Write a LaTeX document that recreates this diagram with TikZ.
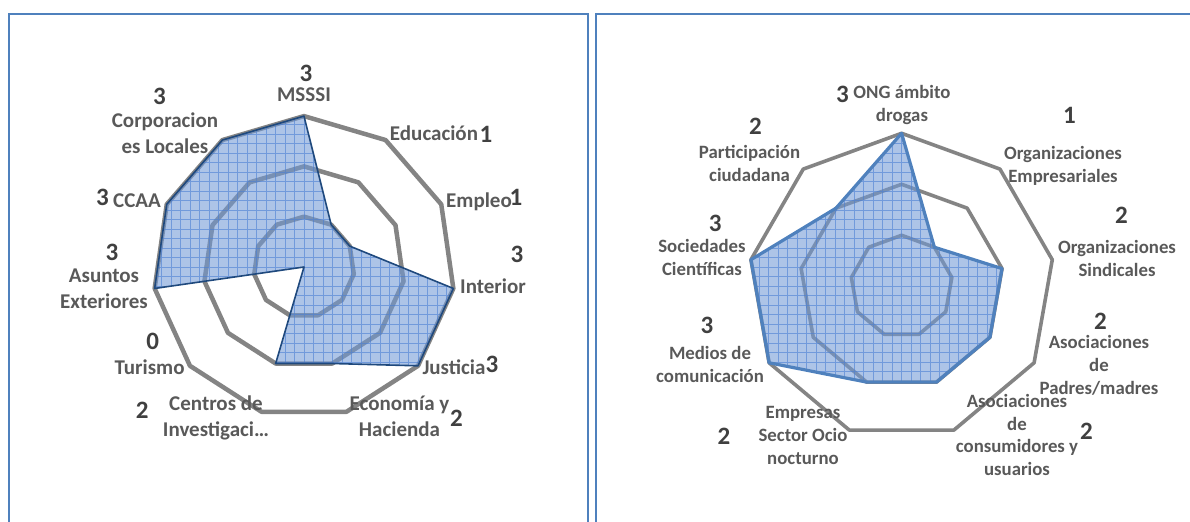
\documentclass[tikz,border=0pt]{standalone}
\usepackage{fontspec}
\setmainfont{Carlito}
\usepackage{xcolor}
\usepackage{tikz}

\definecolor{frameblue}{HTML}{4F81BD}
\definecolor{ringgray}{HTML}{848484}
\definecolor{areablue}{HTML}{7199D6}
\definecolor{gridblue}{HTML}{4A7ED4}
\definecolor{edgenavy}{HTML}{1F497D}
\definecolor{lblgray}{HTML}{595959}
\definecolor{numgray}{HTML}{404040}

\begin{document}
\begin{tikzpicture}[x=0.5pt, y=-0.5pt]
    \tikzstyle{frame} = [draw=frameblue, line width=1pt]
    \tikzstyle{ringL} = [draw=ringgray, line width=2.25pt, line join=round]
    \tikzstyle{ringR} = [draw=ringgray, line width=1.8pt, line join=round]
    \tikzstyle{area} = [fill=areablue, fill opacity=0.58]
    \tikzstyle{gridln} = [draw=gridblue, line width=0.4pt, opacity=0.6]
    \tikzstyle{lbl} = [anchor=base, inner sep=0pt, text=lblgray, align=center, font=\bfseries\fontsize{10.5}{13}\selectfont]
    \tikzstyle{lblR} = [lbl, font=\bfseries\fontsize{9.4}{11.35}\selectfont]
    \tikzstyle{num} = [anchor=base, inner sep=0pt, text=numgray, font=\bfseries\fontsize{12.5}{13}\selectfont]

    \useasboundingbox (0,0) rectangle (1190,522);

    % panel frames
    \draw [frame] (8.5,522) -- (8.5,14) -- (588,14) -- (588,522);
    \draw [frame] (595.5,522) -- (595.5,14) -- (1190,14);

    % left chart: 11 axes, 50.3 per step
    \begin{scope}[shift={(304,267)}]
        \foreach \r in {50.3, 100.6, 150.9}
            \draw [ringL] (-90:\r) \foreach \k in {1,...,10} { -- ({-90+\k*360/11}:\r) } -- cycle;
        \foreach \v [count=\k from 0] in {3,1,1,3,3,2,2,0,3,3,3}
            \coordinate (L\k) at ({-90+\k*360/11}:{\v*50.3});
        \fill [area] (L0) \foreach \k in {1,...,10} { -- (L\k) } -- cycle;
        \begin{scope}
            \clip (L0) \foreach \k in {1,...,10} { -- (L\k) } -- cycle;
            \draw [gridln, step=4.75pt] (-160,160) grid (160,-160);
        \end{scope}
        \draw [edgenavy, line width=0.8pt, line join=round] (L0) \foreach \k in {1,...,10} { -- (L\k) } -- cycle;
    \end{scope}

    % right chart: 9 axes, 51 per step
    \begin{scope}[shift={(901.6,286.3)}]
        \foreach \r in {51, 102, 153}
            \draw [ringR] (-90:\r) \foreach \k in {1,...,8} { -- ({-90+\k*40}:\r) } -- cycle;
        \foreach \v [count=\k from 0] in {3,1,2,2,2,2,3,3,2}
            \coordinate (R\k) at ({-90+\k*40}:{\v*51});
        \fill [area] (R0) \foreach \k in {1,...,8} { -- (R\k) } -- cycle;
        \begin{scope}
            \clip (R0) \foreach \k in {1,...,8} { -- (R\k) } -- cycle;
            \draw [gridln, step=4.75pt] (-160,160) grid (160,-160);
        \end{scope}
        \draw [frameblue, line width=1.6pt, line join=round] (R0) \foreach \k in {1,...,8} { -- (R\k) } -- cycle;
    \end{scope}

    % left labels (base = last line)
    \node [num] (nMss) at (306,81.5) {3};
    \node [lbl] (lMss) at (304,102) {MSSSI};
    \node [lbl] (lEdu) at (434,141) {Educación};
    \node [num] (nEdu) at (486,142.5) {1};
    \node [lbl] (lEmp) at (479,207.5) {Empleo};
    \node [num] (nEmp) at (516,205.5) {1};
    \node [num] (nInt) at (517,262.5) {3};
    \node [lbl] (lInt) at (493,294) {Interior};
    \node [lbl] (lJus) at (454,375) {Justicia};
    \node [num] (nJus) at (492,372.5) {3};
    \node [lbl] (lEco) at (399.5,437) {Economía y\\Hacienda};
    \node [num] (nEco) at (456.5,427) {2};
    \node [lbl] (lCen) at (216,437) {Centros de\\Investigaci…};
    \node [num] (nCen) at (142.3,419) {2};
    \node [num] (nTur) at (152.6,349.5) {0};
    \node [lbl] (lTur) at (149.6,375) {Turismo};
    \node [num] (nAst) at (112,260.5) {3};
    \node [lbl] (lAst) at (104,309) {Asuntos\\Exteriores};
    \node [num] (nCca) at (102.5,205.5) {3};
    \node [lbl] (lCca) at (137,207.5) {CCAA};
    \node [num] (nCor) at (159.4,104.5) {3};
    \node [lbl] (lCor) at (165,154) {Corporacion\\es Locales};

    % right labels (base = last line)
    \node [num] (nOng) at (842.4,103) {3};
    \node [lblR] (lOng) at (902,121.2) {ONG ámbito\\drogas};
    \node [num] (nOem) at (1069.4,124) {1};
    \node [lblR] (lOem) at (1063,182.7) {Organizaciones\\Empresariales};
    \node [num] (nOsi) at (1121.4,224) {2};
    \node [lblR] (lOsi) at (1117,276.7) {Organizaciones\\Sindicales};
    \node [num] (nPad) at (1100.5,330) {2};
    \node [lblR] (lPad) at (1099,394.4) {Asociaciones\\de\\Padres/madres};
    \node [lblR] (lCon) at (1017,475.6) {Asociaciones\\de\\consumidores y\\usuarios};
    \node [num] (nCon) at (1086.5,440) {2};
    \node [lblR] (lOcio) at (803,464.4) {Empresas\\Sector Ocio\\nocturno};
    \node [num] (nOcio) at (724,445) {2};
    \node [num] (nMed) at (707,334) {3};
    \node [lblR] (lMed) at (710,382.7) {Medios de\\comunicación};
    \node [num] (nSoc) at (715.3,231.5) {3};
    \node [lblR] (lSoc) at (702,275.7) {Sociedades\\Científicas};
    \node [num] (nPar) at (755.5,135) {2};
    \node [lblR] (lPar) at (749.5,181.7) {Participación\\ciudadana};
\end{tikzpicture}
\end{document}
